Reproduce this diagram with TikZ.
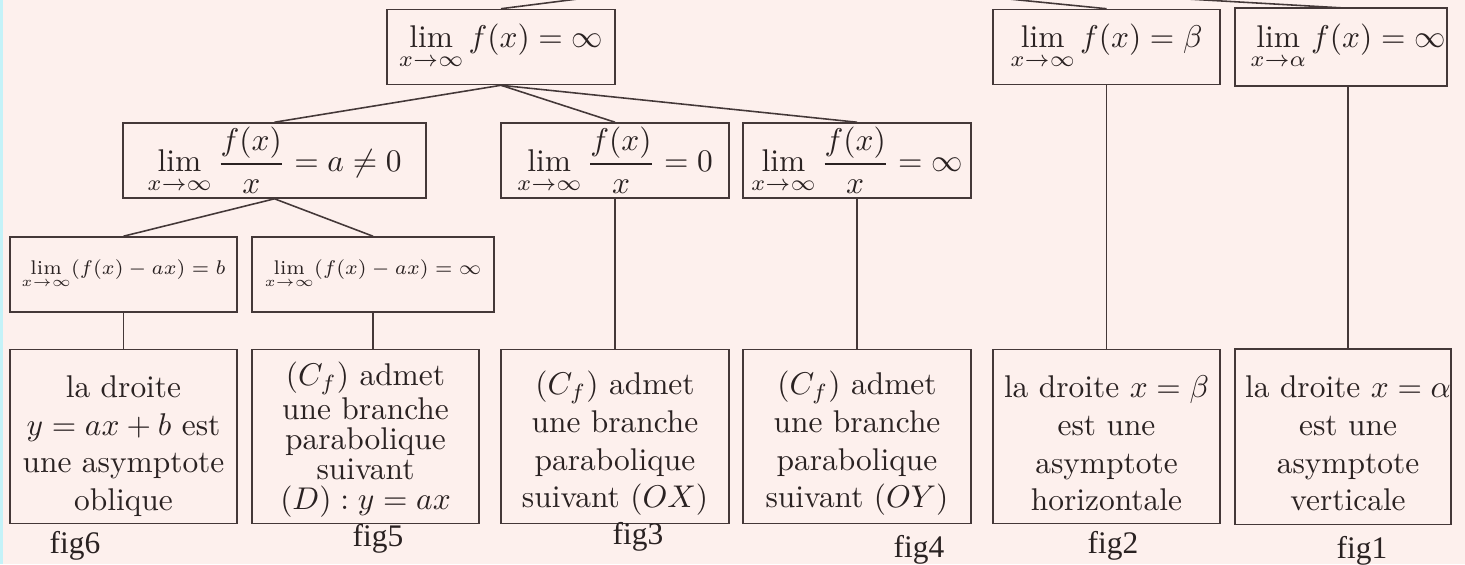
\documentclass[tikz,border=0pt]{standalone}
\usepackage{fontspec}
\usepackage{amsmath}
\usepackage{graphicx}
\newfontfamily\figfont{Liberation Serif}
\usetikzlibrary{calc}

\definecolor{bgpink}{RGB}{253,240,237}
\definecolor{ink}{RGB}{68,56,56}
\definecolor{textink}{RGB}{42,34,34}
\definecolor{edgecyan}{RGB}{196,242,248}

% one drawing unit
\def\pxu{0.3183pt}
% invisible strut that lowers a text block inside its frame
\newcommand\padtop[1]{\rule{0pt}{#1}}
% reduced-size display formula for the third row
\newcommand\smallmath[1]{\scalebox{0.9}{$\displaystyle #1$}}

\begin{document}
\begin{tikzpicture}[x=\pxu,y=-\pxu,
  box/.style={draw=ink, line width=0.5pt, inner sep=0pt, align=center,
              text=textink, font=\fontsize{10}{12}\selectfont},
  formula/.style={box, minimum height=75*\pxu},
  smallformula/.style={formula, font=\fontsize{7}{8}\selectfont},
  textbox/.style={box, minimum height=174*\pxu},
  bare/.style={box, draw=none},
  link/.style={draw=ink, line width=0.5pt},
  figlabel/.style={font=\figfont\fontsize{10}{12}\selectfont, text=textink, inner sep=0pt}]

% page and background
\useasboundingbox (0,0) rectangle (1465,564);
\fill[bgpink] (0,0) rectangle (1465,564);
\fill[edgecyan] (0,0) rectangle (3,564);

% root of the tree, above the page
\coordinate (root) at (767,-25);

% first level
\node[formula, minimum width=228*\pxu] (A) at (501,47)
  {$\displaystyle\lim_{x\to\infty} f(x)=\infty$};
\node[formula, minimum width=227*\pxu] (B) at (1106.5,47)
  {$\displaystyle\lim_{x\to\infty} f(x)=\beta$};
\node[bare, minimum height=76*\pxu] (C) at (1348,47)
  {$\displaystyle\lim_{x\to\alpha} f(x)=\infty$};
\draw[ink, line width=0.5pt] ([xshift=-113*\pxu]C.north) rectangle ([xshift=99*\pxu]C.south);

% second level
\node[formula, minimum width=303*\pxu] (D) at (274.5,160.5)
  {$\displaystyle\lim_{x\to\infty}\frac{f(x)}{x}=a\neq 0$};
\node[formula, minimum width=228*\pxu] (E) at (615,160.5)
  {$\displaystyle\lim_{x\to\infty}\frac{f(x)}{x}=0$};
\node[formula, minimum width=228*\pxu] (F) at (857,160.5)
  {$\displaystyle\lim_{x\to\infty}\frac{f(x)}{x}=\infty$};

% third level
\node[smallformula, minimum width=227*\pxu] (G) at (123.5,274.5)
  {\smallmath{\lim_{x\to\infty}(f(x)-ax)=b}};
\node[smallformula, minimum width=242*\pxu] (H) at (373,274.5)
  {\smallmath{\lim_{x\to\infty}(f(x)-ax)=\infty}};

% conclusions
\node[textbox, minimum width=227*\pxu] (G4) at (123.5,436.5)
  {\padtop{13pt}la droite\\ $y=ax+b$ est\\ une asymptote\\ oblique};
\node[textbox, minimum width=227*\pxu, font=\fontsize{10}{9.6}\selectfont] (H4) at (365.5,436.5)
  {\padtop{9.5pt}$(C_f)$ admet\\ une branche\\ parabolique\\ suivant\\ $(D):y=ax$};
\node[textbox, minimum width=228*\pxu] (E4) at (615,436.5)
  {\padtop{12pt}$(C_f)$ admet\\ une branche\\ parabolique\\ suivant $(OX)$};
\node[textbox, minimum width=228*\pxu] (F4) at (857,436.5)
  {\padtop{12pt}$(C_f)$ admet\\ une branche\\ parabolique\\ suivant $(OY)$};
\node[textbox, minimum width=227*\pxu] (B4) at (1106.5,436.5)
  {\padtop{11.5pt}la droite $x=\beta$\\ est une\\ asymptote\\ horizontale};
\node[bare, minimum height=174*\pxu] (C4) at (1348,436.5)
  {\padtop{11.5pt}la droite $x=\alpha$\\ est une\\ asymptote\\ verticale};
\draw[ink, line width=0.5pt] ([xshift=-113*\pxu]C4.north) rectangle ([xshift=103*\pxu]C4.south);

% figure labels
\node[figlabel] (l6) at (75,546) {fig6};
\node[figlabel] (l5) at (378,538.5) {fig5};
\node[figlabel] (l3) at (638,537) {fig3};
\node[figlabel] (l4) at (919,550) {fig4};
\node[figlabel] (l2) at (1113,545.5) {fig2};
\node[figlabel] (l1) at (1362,550.5) {fig1};

% connectors
\draw[link] (root) -- (A.north);
\draw[link] (root) -- (B.north);
\draw[link] (root) -- (C.north);
\draw[link] (A.south) -- (D.north);
\draw[link] (A.south) -- (E.north);
\draw[link] (A.south) -- (F.north);
\draw[link] (D.south) -- (G.north);
\draw[link] (D.south) -- (H.north);
\draw[link] (G.south) -- (G4.north);
\draw[link] (H.south) -- (H.south |- H4.north);
\draw[link] (E.south) -- (E4.north);
\draw[link] (F.south) -- (F4.north);
\draw[link] (B.south) -- (B4.north);
\draw[link] (C.south) -- (C4.north);
\end{tikzpicture}
\end{document}
